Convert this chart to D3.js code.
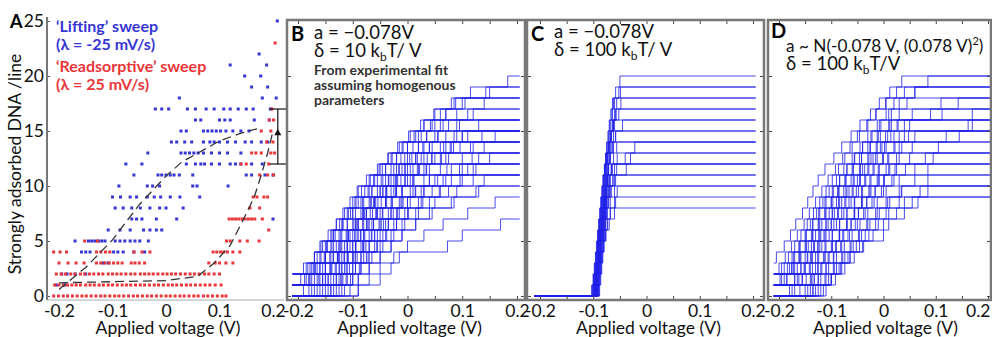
<!DOCTYPE html>
<html>
<head>
<meta charset="utf-8">
<script src="https://cdn.jsdelivr.net/npm/d3@7"></script>
<style>
  body { margin: 0; background: #fff; }
  text { font-family: Lato, "Liberation Sans", sans-serif; }
</style>
</head>
<body>
<div id="chart"></div>
<script>
// ---- data (voltages in mV, counts in adsorbed DNA per line) ----
const voltTicks = [-0.2, -0.1, 0, 0.1, 0.2];
const voltMinor = [-0.2, -0.15, -0.1, -0.05, 0, 0.05, 0.1, 0.15, 0.2];
const countTicks = [0, 5, 10, 15, 20, 25];
const sweepStart = -210, sweepEnd = 205;

// panel A : [level, voltages]
const liftingPts = [
  [25, [208]], [22, [174]], [21, [120, 188]], [20, [147, 177]], [19, [160, 190]],
  [18, [25, 180, 206]],
  [17, [-20, -8, 5, 40, 55, 75, 90, 108, 120, 135, 150, 163, 195]],
  [16, [55, 65, 100, 110, 120, 165, 193]],
  [15, [28, 38, 70, 78, 86, 94, 102, 112, 125, 140, 155]],
  [14, [10, 20, 35, 48, 70, 82, 90, 100, 115, 130, 148, 160, 178, 190]],
  [13, [-34, 28, 36, 44, 52, 60, 70, 85, 100, 115, 140]],
  [12, [-75, -45, 38, 55, 65, 72, 85, 100, 120, 130, 140, 160, 180]],
  [11, [-60, -15, -8, 0, 8, 15, 25, 50, 150, 160, 185, 200]],
  [10, [-88, -35, -25, -12, 50, 58, 116]],
  [9, [-100, -85, -67, -55, -35, -22, -10, 8, 26, 63]],
  [8, [-95, -80, -64, -48, -30, -12, 0, 32]],
  [7, [-64, -55, -45, -18, 20, 200]],
  [6, [-108, -86, -67, -42, -30, -18, -8]],
  [5, [-170, -145, -139, -133, -126, -120, -114, -95, -86, -77, -67, -58, -49, -33]],
  [4, [-158, -150, -142, -98, -90, -80, -60, -40]],
  [3, [-117, -108]],
  [2, [-195, -185, -170, -150]],
  [1, [-205, -190]]
];
const readsorbPts = [
  [23, [204]], [17, [198]], [16, [193, 201]], [15, [178, 196]], [14, [188, 200]],
  [13, [160, 168, 178, 196, 203]],
  [12, [140, 150, 192]],
  [11, [175, 190, 201]],
  [9, [163, 170, 183, 190]],
  [8, [157, 175]],
  [7, [118, 124, 130, 136, 142, 148, 154, 160, 166, 180]],
  [6, [192]],
  [5, [-152, -128, 113, 120, 138, 152, 174]],
  [4, [-210, -198, -186, -130, -122, -113, -105, -60, -45, -30, 88, 95, 102, 108, 115, 125, 138]],
  [3, [-200, -183, -168, -153, -130, -122, -114, -106, -98, -90, -82, -65, -58, -50, -40, 80, 92, 100, 112, 125]],
  [2, [-205, -196, -188, -178, -170, -160, -152, -143, -135, -126, -118, -108, -100, -92, -84, -75, -66,
       -58, -48, -40, -32, -24, -15, -6, 2, 10, 18, 27, 36, 45, 53, 62, 72, 80, 90, 100]],
  [1, [-208, -200, -192, -184, -176, -168, -160, -150, -142, -134, -125, -117, -108, -100, -91, -82, -74,
       -66, -57, -48, -40, -31, -22, -14, -5, 4, 12, 20, 29, 38, 46, 55, 64, 73, 82, 92, 103]],
  [0, [-210, -201, -192, -184, -175, -166, -157, -149, -140, -131, -122, -114, -105, -96, -88, -79, -70,
       -61, -53, -44, -35, -27, -18, -9, 0, 8, 17, 26, 34, 43, 52, 60, 70, 78, 87, 96, 105, 112]]
];
const liftingFit = [[-200, 0.6], [-150, 2.6], [-100, 5.1], [-50, 8.3], [0, 10.9], [30, 12.2],
  [60, 13], [100, 14.1], [140, 14.8], [170, 15.2]];
const readsorbFit = [[-200, 1.2], [-100, 1.3], [0, 1.4], [60, 1.8], [90, 3], [120, 4.6], [145, 7],
  [165, 9], [178, 11], [190, 13], [200, 15]];
const errBar = { v: 209, lo: 12, hi: 17, mid: 14.8 };

// panels B-D : [start level, voltages where one more DNA adsorbs]
const tracesB = [
  [1, [-195, -182, -170, -158, -140, -130, -118, -105, -92, -75, -55, -35, -10, 12, 30, 50, 85, 143, 183]],
  [0, [-190, -178, -165, -150, -140, -125, -110, -100, -85, -70, -55, -40, -20, 0, 20, 45, 70, 100, 150]],
  [2, [-185, -170, -160, -145, -130, -115, -100, -90, -70, -50, -30, -15, 5, 30, 60, 88]],
  [1, [-188, -175, -160, -148, -135, -120, -108, -90, -72, -60, -40, -20, 0, 25, 50, 110]],
  [0, [-180, -170, -155, -140, -125, -112, -98, -82, -68, -50, -35, -15, 8, 30, 55, 75, 120]],
  [1, [-175, -160, -150, -135, -120, -100, -85, -70, -55, -40, -20, 0, 20, 35, 65]],
  [0, [-170, -155, -140, -128, -115, -100, -90, -75, -60, -45, -25, -5, 15, 40, 70, 130]],
  [1, [-165, -150, -135, -120, -105, -90, -78, -60, -40, -20, 0, 25, 60, 100]],
  [0, [-160, -145, -130, -115, -100, -85, -70, -55, -40, -25, -5, 20, 45, 80, 160]],
  [2, [-170, -150, -130, -110, -95, -80, -62, -45, -30, -10, 15, 40, 90]],
  [1, [-155, -140, -120, -105, -90, -75, -58, -40, -20, 5, 30, 60, 115]],
  [0, [-150, -135, -120, -110, -95, -80, -65, -50, -30, -10, 10, 35, 75, 140]],
  [1, [-145, -125, -110, -95, -80, -62, -45, -28, -10, 12, 40, 70, 120]],
  [0, [-140, -125, -110, -95, -80, -65, -48, -30, -12, 10, 40, 80, 130]],
  [1, [-130, -115, -100, -85, -70, -52, -35, -15, 5, 30, 60, 100]],
  [0, [-145, -130, -112, -98, -82, -66, -50, -30, -10, 15, 50, 95, 150]],
  [1, [-120, -100, -85, -70, -55, -35, -15, 5, 30, 65, 110]],
  [0, [-125, -110, -95, -80, -60, -45, -25, -5, 20, 45, 80, 125]],
  [2, [-120, -100, -80, -60, -40, -20, 0, 30, 70, 120]],
  [0, [-115, -100, -85, -65, -45, -25, -5, 20, 50, 90, 140]],
  [1, [-100, -85, -70, -50, -30, -10, 15, 40, 75, 120]],
  [0, [-105, -90, -70, -50, -30, -10, 15, 45, 85, 130]],
  [1, [-90, -70, -50, -30, -10, 15, 40, 80, 125]],
  [0, [-90, -70, -50, -25, 0, 30, 65, 110, 160]],
  [0, [-90, -50, -30, -15, 73, 100, 170]],
  [2, [-190, -170, -155, -135, -118, -100, -82, -65, -45, -25, -5, 20, 50, 90]],
  [1, [-180, -168, -152, -138, -122, -110, -95, -80, -65, -48, -30, -12, 10, 35, 60, 90, 140]],
  [0, [-135, -118, -100, -85, -70, -50, -35, -18, 0, 25, 55, 100]],
  [1, [-180, -160, -142, -125, -108, -92, -75, -58, -38, -18, 5, 30, 70, 110]],
  [0, [-130, -112, -95, -75, -55, -40, -20, 0, 25, 60, 100]],
  [1, [-185, -172, -158, -146, -132, -118, -104, -94, -78, -62, -46, -28, -8, 15, 42, 70, 105]],
  [0, [-175, -162, -150, -136, -122, -108, -94, -80, -66, -50, -34, -16, 4, 28, 56, 95]],
  [2, [-178, -165, -150, -138, -124, -110, -96, -84, -68, -52, -36, -18, 2, 24, 48, 80, 115]],
  [0, [-165, -150, -138, -124, -110, -96, -82, -68, -54, -38, -22, -4, 18, 45, 85]],
  [1, [-150, -132, -116, -100, -86, -72, -56, -40, -22, -4, 18, 44, 78]],
  [0, [-140, -122, -106, -92, -76, -60, -44, -26, -8, 14, 40, 72, 118]],
  [1, [-160, -142, -126, -110, -96, -80, -64, -48, -30, -12, 10, 36, 66, 100]],
  [0, [-120, -104, -88, -72, -56, -38, -20, 2, 28, 58, 96]],
  [2, [-150, -128, -110, -92, -74, -56, -38, -20, 0, 22, 50, 84]],
  [0, [-155, -140, -124, -108, -94, -78, -62, -46, -28, -10, 10, 34, 62, 96, 136]]
];
const tracesC = [
  [0, [-100, -98, -96, -94, -92, -90, -88, -86, -84, -82, -80, -78, -76, -74, -72, -70, -67, -64, -58, -50]],
  [0, [-98, -96, -94, -92, -90, -88, -86, -84, -82, -80, -78, -76, -74, -72, -70, -67, -64, -60, -52]],
  [0, [-101, -99, -97, -95, -93, -91, -89, -87, -85, -83, -81, -79, -77, -75, -72, -69, -65, -62]],
  [0, [-96, -94, -92, -90, -88, -86, -84, -82, -80, -78, -76, -74, -72, -69, -66, -62, -57]],
  [0, [-99, -97, -95, -93, -91, -89, -87, -85, -83, -81, -79, -77, -74, -71, -67, -62]],
  [0, [-95, -93, -91, -89, -87, -85, -83, -81, -79, -77, -75, -72, -69, -65, -58]],
  [0, [-97, -95, -93, -91, -89, -87, -85, -83, -81, -78, -75, -72, -68, -62]],
  [0, [-94, -92, -90, -88, -86, -84, -82, -80, -77, -74, -70, -64, -55]],
  [0, [-103, -100, -97, -94, -91, -88, -85, -82, -79, -76, -72, -66]],
  [0, [-92, -90, -88, -86, -84, -82, -80, -77, -74, -70, -63]],
  [0, [-93, -91, -89, -87, -84, -81, -78, -74, -68, -60]],
  [0, [-90, -88, -86, -84, -81, -78, -74, -68, -58]],
  [0, [-91, -89, -87, -84, -80, -76, -70, -60]],
  [0, [-93, -91, -89, -87, -85, -83, -81, -79, -77, -75, -73, -71, -68, -64, -58, -45]],
  [0, [-100, -98, -96, -94, -92, -90, -88, -86, -84, -82, -80, -78, -75, -70, -62]],
  [0, [-91, -89, -87, -85, -83, -81, -79, -77, -75, -72, -68, -60, -40, -22]],
  [0, [-97, -95, -93, -91, -89, -87, -85, -83, -80, -77, -73, -66, -30]],
  [0, [-89, -87, -85, -83, -81, -79, -77, -74, -71, -66, -58, -38]],
  [0, [-95, -93, -91, -89, -87, -85, -82, -79, -75, -69, -60]],
  [0, [-97, -95, -93, -91, -89, -87, -85, -83, -81, -79, -77, -75, -73, -71, -68, -64, -58, -48]],
  [0, [-102, -100, -98, -96, -94, -92, -90, -88, -86, -84, -82, -79, -76, -72, -67, -60, -52]],
  [0, [-94, -92, -90, -88, -86, -84, -82, -80, -78, -76, -74, -72, -70, -68, -66, -63, -60, -56, -49]],
  [0, [-88, -86, -84, -82, -80, -77, -73, -68, -60, -55]],
  [0, [-99, -96, -93, -90, -87, -84, -81, -78, -75, -72, -69, -66, -62, -56]],
  [0, [-96, -93, -90, -87, -84, -81, -78, -75, -72, -68, -63, -56]]
];
const tracesD = [
  [3, [-205, -190, -178, -168, -155, -145, -135, -125, -112, -95, -80, -62, -45, -25, -8, 12, 35]],
  [2, [-200, -188, -176, -165, -152, -142, -130, -118, -106, -92, -78, -64, -50, -32, -15, 5, 40, 85]],
  [1, [-195, -180, -170, -160, -150, -140, -128, -116, -104, -90, -76, -60, -45, -30, -12, 5, 20, 60]],
  [2, [-190, -175, -162, -148, -135, -122, -110, -96, -84, -70, -55, -40, -22, -5, 15, 45]],
  [1, [-185, -172, -160, -148, -136, -124, -112, -100, -88, -74, -60, -46, -30, -12, 10, 30, 143]],
  [0, [-180, -170, -158, -146, -134, -122, -110, -98, -86, -72, -58, -44, -28, -12, 8, 28, 112]],
  [2, [-175, -160, -148, -135, -122, -110, -97, -85, -72, -58, -42, -26, -10, 12, 170]],
  [1, [-170, -158, -145, -132, -120, -106, -94, -80, -66, -50, -36, -20, -3, 20, 50, 90]],
  [0, [-175, -162, -150, -138, -125, -112, -100, -86, -72, -58, -44, -28, -12, 5, 40, 162]],
  [1, [-165, -152, -140, -126, -114, -100, -88, -74, -60, -46, -30, -15, 2, 30, 170]],
  [0, [-160, -148, -136, -124, -110, -98, -84, -70, -56, -42, -26, -10, 8, 30, 145]],
  [2, [-150, -136, -122, -110, -95, -80, -66, -52, -36, -20, -2, 20, 120]],
  [1, [-155, -140, -126, -112, -98, -84, -70, -55, -40, -24, -8, 10, 35, 60]],
  [0, [-150, -138, -125, -112, -98, -84, -70, -56, -42, -26, -10, 10, 30, 105]],
  [1, [-140, -126, -112, -98, -84, -70, -56, -42, -28, -12, 5, 25, 55]],
  [0, [-145, -132, -118, -104, -90, -76, -62, -48, -32, -16, 0, 25, 95]],
  [2, [-130, -115, -100, -85, -70, -55, -40, -24, -8, 12, 50]],
  [1, [-135, -120, -106, -92, -78, -62, -48, -32, -16, 2, 22, 80]],
  [0, [-135, -120, -105, -90, -75, -60, -45, -30, -12, 5, 30, 60]],
  [1, [-125, -110, -95, -80, -65, -50, -35, -18, 0, 20, 85]],
  [0, [-130, -112, -96, -80, -64, -48, -32, -15, 5, 30, 85]],
  [0, [-120, -105, -90, -74, -58, -42, -26, -8, 12, 35, 60]],
  [1, [-100, -82, -64, -46, -28, -10, 10, 40, 85]],
  [0, [-115, -100, -85, -68, -52, -35, -15, 5, 30, 70]],
  [0, [-135, -100, -80, -64, -40, 0, 10, 40, 66]],
  [0, [-110, -92, -74, -56, -38, -20, 0, 25, 55]],
  [1, [-190, -176, -162, -150, -138, -125, -112, -100, -86, -72, -58, -42, -25, -6, 15]],
  [2, [-195, -182, -170, -158, -146, -134, -122, -110, -98, -86, -74, -60, -46, -30, -14, 4, 25]],
  [1, [-198, -184, -172, -160, -148, -136, -124, -112, -98, -84, -70, -56, -40, -24, -8, 10, 30, 60]],
  [0, [-170, -156, -142, -130, -118, -104, -90, -76, -62, -48, -34, -18, 0, 22, 48]],
  [2, [-165, -150, -138, -124, -110, -98, -84, -70, -56, -40, -24, -6, 14, 40]],
  [0, [-140, -125, -110, -96, -82, -68, -54, -38, -22, -4, 16, 42]],
  [1, [-185, -170, -158, -144, -130, -118, -104, -90, -76, -62, -46, -30, -14, 4, 26, 55, 110]],
  [0, [-125, -110, -94, -78, -62, -46, -30, -12, 8, 34]]
];

// ---- layout ----
const W = 992, H = 337;
const plotTop = 20, plotBottom = 300;
const fontSize = 17.5;
const blue = "#3636d4", red = "#e8363a", traceColor = "#1f1fe8", frame = "#777";

const svg = d3.select("#chart").append("svg")
  .attr("width", W).attr("height", H)
  .style("display", "block");

const y = d3.scaleLinear().domain([0, 25]).range([296, 21]);

const panels = [
  { id: "A", box: [47, 284], xr: [59, 273] },
  { id: "B", box: [287, 525], xr: [298, 517], traces: tracesB },
  { id: "C", box: [527, 764], xr: [540, 753], traces: tracesC },
  { id: "D", box: [768, 991], xr: [779, 988], traces: tracesD }
];

const fmt = d => d === 0 ? "0" : String(d);

panels.forEach(p => {
  const x = d3.scaleLinear().domain([-0.2, 0.2]).range(p.xr);
  p.x = x;
  const g = svg.append("g").attr("class", "panel-" + p.id);

  // step traces (B, C, D)
  if (p.traces) {
    const line = d3.line()
      .x(d => x(d[0] / 1000))
      .y(d => y(d[1]))
      .curve(d3.curveStepAfter);
    g.append("g").selectAll("path")
      .data(p.traces)
      .join("path")
      .attr("d", t => {
        const [s, steps] = t;
        const pts = [[sweepStart, s]];
        steps.forEach((v, i) => pts.push([v, s + i + 1]));
        pts.push([sweepEnd, s + steps.length]);
        return line(pts);
      })
      .attr("fill", "none")
      .attr("stroke", traceColor)
      .attr("stroke-width", 1)
      .attr("stroke-opacity", 0.8);
  }

  // bottom labels
  const labels = g.append("g")
    .attr("transform", `translate(0,${plotBottom})`)
    .call(d3.axisBottom(x).tickValues(voltTicks).tickSize(0).tickPadding(5).tickFormat(fmt))
    .call(a => a.select(".domain").remove())
    .selectAll("text")
    .attr("font-family", "Lato, sans-serif")
    .attr("font-size", fontSize)
    .attr("fill", "#111");
  if (p.id === "D") {
    // last label sits against the right edge of the figure
    labels.filter(d => d === 0.2).attr("text-anchor", "end").attr("x", W - 2 - x(0.2));
  }

  g.append("text")
    .attr("x", x(0) + 2)
    .attr("y", 334)
    .attr("text-anchor", "middle")
    .attr("font-size", fontSize)
    .attr("fill", "#111")
    .text("Applied voltage (V)");

  if (p.id !== "A") {
    // inner ticks on all four sides
    const tick = (axis, tr) => g.append("g").attr("transform", tr)
      .call(axis.tickFormat("").tickSizeOuter(0))
      .call(a => a.select(".domain").remove())
      .selectAll("line").attr("stroke", "#444");
    tick(d3.axisTop(x).tickValues(voltMinor).tickSize(4), `translate(0,${plotBottom})`);
    tick(d3.axisBottom(x).tickValues(voltMinor).tickSize(4), `translate(0,${plotTop})`);
    tick(d3.axisRight(y).tickValues(countTicks.slice(0, 5)).tickSize(4), `translate(${p.box[0]},0)`);
    tick(d3.axisLeft(y).tickValues(countTicks.slice(0, 5)).tickSize(4), `translate(${p.box[1]},0)`);

    g.append("rect")
      .attr("x", p.box[0]).attr("y", plotTop)
      .attr("width", p.box[1] - p.box[0]).attr("height", plotBottom - plotTop)
      .attr("fill", "none")
      .attr("stroke", frame)
      .attr("stroke-width", 2.5);
  }
});

// ---- panel A ----
const A = panels[0];
const xA = A.x;
const gA = svg.append("g");

gA.append("g")
  .attr("transform", `translate(${A.box[0]},0)`)
  .call(d3.axisLeft(y).tickValues(countTicks).tickSize(0).tickPadding(3))
  .call(a => a.select(".domain").remove())
  .selectAll("text")
  .attr("font-family", "Lato, sans-serif")
  .attr("font-size", fontSize)
  .attr("fill", "#111");

gA.append("g")
  .attr("transform", `translate(${A.box[0]},0)`)
  .call(d3.axisRight(y).tickValues(countTicks).tickSize(3).tickFormat(""))
  .call(a => a.select(".domain").remove())
  .selectAll("line").attr("stroke", "#555");

gA.append("line")
  .attr("x1", A.box[0]).attr("x2", A.box[0])
  .attr("y1", 17).attr("y2", plotBottom)
  .attr("stroke", frame).attr("stroke-width", 2);
gA.append("line")
  .attr("x1", A.box[0]).attr("x2", A.box[1])
  .attr("y1", plotBottom).attr("y2", plotBottom)
  .attr("stroke", "#aaa").attr("stroke-width", 1);

function drawPoints(rows, color) {
  const flat = rows.flatMap(([lvl, vs]) => vs.map(v => [v, lvl]));
  gA.append("g").selectAll("rect")
    .data(flat)
    .join("rect")
    .attr("x", d => xA(d[0] / 1000) - 1.5)
    .attr("y", d => y(d[1]) - 1.5)
    .attr("width", 3)
    .attr("height", 3)
    .attr("fill", color);
}
drawPoints(liftingPts, blue);
drawPoints(readsorbPts, red);

const fitLine = d3.line().x(d => xA(d[0] / 1000)).y(d => y(d[1]));
[liftingFit, readsorbFit].forEach(f => {
  gA.append("path")
    .attr("d", fitLine(f))
    .attr("fill", "none")
    .attr("stroke", "#333")
    .attr("stroke-width", 1.3)
    .attr("stroke-dasharray", "9,5");
});

// error bar
const ex = xA(errBar.v / 1000);
gA.append("line").attr("x1", ex).attr("x2", ex)
  .attr("y1", y(errBar.lo)).attr("y2", y(errBar.hi))
  .attr("stroke", "#111").attr("stroke-width", 1.2);
[errBar.lo, errBar.hi].forEach(v => {
  gA.append("line").attr("x1", ex - 8).attr("x2", ex + 8)
    .attr("y1", y(v)).attr("y2", y(v))
    .attr("stroke", "#111").attr("stroke-width", 1.2);
});
gA.append("path")
  .attr("d", d3.symbol(d3.symbolTriangle, 22)())
  .attr("transform", `translate(${ex},${y(errBar.mid)})`)
  .attr("fill", "#111");

// labels A
svg.append("text").attr("x", 10).attr("y", 28)
  .attr("font-size", 18).attr("font-weight", 700).text("A");

svg.append("text")
  .attr("transform", `translate(21,164) rotate(-90)`)
  .attr("text-anchor", "middle")
  .attr("font-size", fontSize)
  .attr("fill", "#111")
  .text("Strongly adsorbed DNA /line");

const legend = [
  ["\u2018Lifting\u2019 sweep", blue, 32],
  ["(\u03bb = -25 mV/s)", blue, 50],
  ["\u2018Readsorptive\u2019 sweep", red, 72],
  ["(\u03bb = 25 mV/s)", red, 90]
];
legend.forEach(([t, c, yy]) => {
  svg.append("text").attr("x", 56).attr("y", yy)
    .attr("font-size", 16).attr("font-weight", 700).attr("fill", c).text(t);
});

// text made of pieces laid out one after another (sub/superscripts)
function pieces(x, yy, parts, size) {
  let cx = x;
  parts.forEach(pt => {
    const t = svg.append("text")
      .attr("x", cx).attr("y", yy + (pt.dy || 0))
      .attr("font-size", pt.size || size)
      .attr("fill", "#111")
      .text(pt.t);
    cx += t.node().getComputedTextLength() + (pt.gap || 0);
  });
}
function label(x, yy, t) {
  svg.append("text").attr("x", x).attr("y", yy).attr("font-size", 20).attr("font-weight", 700).text(t);
}
function plain(x, yy, t, opts = {}) {
  svg.append("text").attr("x", x).attr("y", yy)
    .attr("font-size", opts.size || fontSize)
    .attr("font-weight", opts.weight || 400)
    .attr("fill", opts.fill || "#111")
    .text(t);
}

const annSize = 18.5;
label(291, 41, "B");
plain(314, 39, "a = \u22120.078V", { size: annSize });
pieces(314, 57, [{ t: "\u03b4 = 10 k" }, { t: "b", dy: 4, size: 12 }, { t: "T/ V" }], annSize);
plain(314, 75, "From experimental fit", { size: 14, weight: 700, fill: "#333" });
plain(314, 90, "assuming homogenous", { size: 14, weight: 700, fill: "#333" });
plain(314, 105, "parameters", { size: 14, weight: 700, fill: "#333" });

label(531, 41, "C");
plain(554, 38, "a = \u22120.078V", { size: annSize });
pieces(554, 56, [{ t: "\u03b4 = 100 k" }, { t: "b", dy: 4, size: 12 }, { t: "T/ V" }], annSize);

label(771, 38, "D");
pieces(786, 52, [{ t: "a ~ N(-0.078 V, (0.078 V)" }, { t: "2", dy: -7, size: 11 }, { t: ")" }], 17.2);
pieces(786, 70, [{ t: "\u03b4 = 100 k" }, { t: "b", dy: 4, size: 12 }, { t: "T/V" }], annSize);
</script>
</body>
</html>
